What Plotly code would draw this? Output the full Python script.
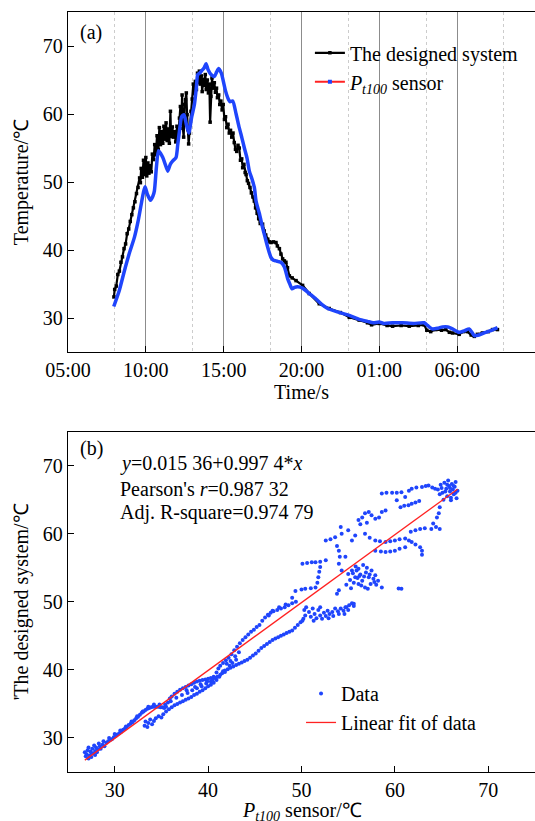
import plotly.graph_objects as go

# ---------------- Panel (a): time series (hours since 00:00 of day 1) ----------------
sys_hours = [7.95, 8.0, 8.1, 8.2, 8.3, 8.4, 8.5, 8.6, 8.7, 8.8, 8.9, 9.0, 9.1, 9.2, 9.3, 9.4, 9.5, 9.6, 9.65, 9.7,
             9.78, 9.85, 9.92, 10.0, 10.06, 10.13, 10.2, 10.28, 10.35, 10.42, 10.5, 10.57, 10.64, 10.72, 10.8, 10.87,
             10.94, 11.02, 11.09, 11.16, 11.23, 11.3, 11.37, 11.44, 11.51, 11.58, 11.62, 11.7, 11.77, 11.84, 11.92,
             12.0, 12.08, 12.16, 12.22, 12.28, 12.33, 12.38, 12.43, 12.5, 12.55, 12.6, 12.65, 12.7, 12.75, 12.8, 12.9,
             12.98, 13.05, 13.12, 13.18, 13.25, 13.32, 13.38, 13.44, 13.5, 13.57, 13.62, 13.68, 13.75, 13.82, 13.88,
             13.95, 14.02, 14.08, 14.13, 14.18, 14.25, 14.32, 14.4, 14.47, 14.54, 14.6, 14.68, 14.75, 14.82, 14.9,
             14.97, 15.05, 15.12, 15.2, 15.28, 15.36, 15.44, 15.52, 15.6, 15.68, 15.76, 15.84, 15.92, 16.0, 16.08,
             16.16, 16.22, 16.3, 16.38, 16.44, 16.52, 16.6, 16.69, 16.78, 16.88, 16.97, 17.05, 17.15, 17.25, 17.35,
             17.5, 17.6, 17.7, 17.83, 17.95, 18.04, 18.2, 18.36, 18.45, 18.58, 18.68, 18.79, 18.9, 19.0, 19.1, 19.22,
             19.4, 19.65, 20.07, 20.5, 21.14, 21.78, 22.5, 23.07, 23.7, 24.24, 24.5, 25.0, 25.5, 25.85, 26.4, 26.92,
             27.5, 27.88, 28.05, 28.3, 28.63, 29.0, 29.27, 29.5, 29.7, 30.13, 30.4, 30.66, 30.9, 31.1, 31.3, 31.62,
             32.0, 32.27, 32.59]
sys_temp = [33.1, 34.2, 34.7, 36.4, 36.9, 38.2, 39.0, 40.2, 40.9, 42.4, 43.1, 44.2, 45.2, 46.2, 47.1, 48.3, 49.2, 50.6,
            49.9, 52.0, 50.7, 53.2, 51.1, 53.6, 50.9, 52.8, 51.3, 52.4, 51.5, 54.1, 53.3, 55.5, 54.0, 56.8, 54.8, 58.0,
            55.5, 57.4, 55.7, 58.2, 56.3, 58.7, 56.1, 57.8, 55.7, 60.4, 56.7, 58.1, 56.6, 57.4, 55.9, 58.2, 56.7, 59.4,
            61.1, 58.5, 62.8, 57.9, 56.6, 61.4, 62.1, 63.1, 59.9, 57.7, 55.6, 57.2, 60.4, 62.2, 64.4, 63.0, 64.8, 63.6,
            66.0, 64.6, 66.3, 64.4, 65.6, 63.3, 65.1, 64.2, 65.8, 63.6, 65.0, 63.1, 64.4, 58.8, 62.6, 65.3, 63.8, 64.6,
            63.2, 63.8, 62.4, 62.8, 61.4, 61.9, 60.6, 61.4, 59.2, 59.6, 58.0, 58.5, 57.2, 57.6, 56.6, 57.2, 55.8, 54.8,
            54.5, 55.4, 55.0, 53.2, 53.4, 52.1, 52.6, 51.4, 51.1, 50.2, 49.8, 49.2, 48.4, 47.8, 47.2, 46.2, 45.4, 44.6,
            43.9, 43.8, 42.8, 42.2, 41.6, 41.2, 41.1, 41.2, 41.1, 40.6, 40.2, 39.4, 38.7, 38.4, 38.2, 37.4, 36.2, 35.9,
            35.5, 34.8, 33.6, 32.1, 31.4, 30.8, 30.1, 29.7, 29.3, 29.0, 29.2, 28.9, 28.8, 28.9, 28.8, 28.9, 29.0, 28.2,
            28.0, 28.3, 28.2, 28.3, 27.9, 27.8, 27.6, 28.0, 28.0, 27.5, 27.3, 27.6, 27.8, 28.0, 28.3, 28.3]

pt_hours = [7.94, 8.3, 8.63, 8.95, 9.27, 9.5, 9.70, 9.85, 9.95, 10.1, 10.30, 10.45, 10.55, 10.68, 10.81, 10.95, 11.09,
            11.25, 11.41, 11.57, 11.73, 11.94, 12.05, 12.16, 12.3, 12.45, 12.6, 12.76, 12.95, 13.12, 13.25, 13.33,
            13.45, 13.6, 13.75, 13.87, 14.0, 14.19, 14.40, 14.55, 14.68, 14.85, 14.98, 15.12, 15.26, 15.4, 15.58,
            15.8, 16.0, 16.17, 16.33, 16.5, 16.65, 16.81, 16.97, 17.08, 17.29, 17.5, 17.67, 17.83, 18.04, 18.2, 18.36,
            18.52, 18.68, 18.9, 19.11, 19.25, 19.39, 19.55, 19.75, 20.07, 20.5, 20.93, 21.3, 21.68, 22.3, 23.07,
            23.71, 24.24, 24.6, 24.99, 25.3, 25.85, 26.5, 27.2, 27.88, 28.1, 28.4, 28.75, 29.06, 29.4, 29.7, 30.13,
            30.45, 30.77, 30.95, 31.1, 31.4, 31.73, 32.1, 32.59]
pt_temp = [31.7, 34.1, 37.0, 39.6, 41.9, 44.2, 46.7, 48.5, 49.3, 48.2, 47.3, 47.9, 48.7, 52.2, 54.6, 54.2, 53.6, 52.6,
           51.6, 52.6, 53.1, 53.6, 55.5, 57.5, 59.6, 59.9, 58.5, 57.2, 59.6, 61.4, 64.0, 65.8, 66.0, 66.4, 66.8, 67.4,
           66.5, 65.8, 65.5, 66.2, 66.7, 66.0, 64.8, 63.4, 62.4, 61.8, 61.9, 60.0, 58.0, 56.5, 55.0, 53.5, 51.6, 50.5,
           49.2, 47.2, 45.4, 43.3, 41.8, 40.4, 38.9, 38.5, 38.4, 38.3, 38.2, 37.5, 35.8, 35.0, 34.3, 34.5, 34.6, 34.4,
           33.6, 32.8, 32.0, 31.4, 30.9, 30.4, 29.8, 29.5, 29.3, 29.4, 29.2, 29.3, 29.3, 29.2, 29.3, 28.9, 28.4, 28.5,
           28.7, 28.7, 28.4, 27.9, 28.1, 28.4, 27.9, 27.4, 27.5, 27.8, 28.1, 28.6]

time_tick_vals = [5, 10, 15, 20, 25, 30]
time_tick_text = ["05:00", "10:00", "15:00", "20:00", "01:00", "06:00"]
time_minor_vals = [8, 13, 18, 23, 28, 33]

# ---------------- Panel (b): scatter Pt100 vs designed system ----------------
scatter_pairs = [
    (26.8, 27.9), (27.0, 27.6), (27.1, 28.2), (27.3, 27.4), (27.4, 28.0), (27.5, 27.2), (27.6, 28.4), (27.7, 27.7),
    (27.9, 28.1), (28.0, 28.6), (28.2, 28.3), (28.4, 28.8), (28.5, 28.4), (28.7, 29.0), (28.9, 28.8), (29.1, 29.3),
    (29.3, 29.5), (29.5, 29.7), (29.7, 29.8), (29.9, 30.1), (30.1, 30.3), (30.3, 30.5), (30.5, 30.7), (30.7, 30.9),
    (30.9, 31.2), (31.1, 31.4), (31.3, 31.6), (31.5, 31.9), (31.7, 32.1), (31.9, 32.3), (32.1, 32.6), (32.3, 32.9),
    (32.5, 33.1), (32.7, 33.4), (32.9, 33.7), (33.1, 33.9), (33.3, 34.1), (33.5, 34.3), (33.7, 34.4), (33.9, 34.5),
    (34.1, 34.6), (34.3, 34.6), (34.5, 34.6), (34.7, 34.6), (34.9, 34.5), (35.1, 34.5), (35.3, 34.4), (35.5, 34.6),
    (35.7, 35.2), (35.9, 35.8), (36.1, 36.1), (36.4, 36.5), (36.7, 36.8), (37.0, 37.1), (37.3, 37.3), (37.6, 37.5),
    (37.9, 37.7), (38.2, 37.9), (38.5, 38.1), (38.8, 38.3), (39.1, 38.4), (39.4, 38.5), (39.7, 38.6), (40.0, 38.7),
    (40.3, 38.8), (40.6, 39.0), (40.9, 39.6), (41.1, 40.2), (41.3, 40.6), (41.6, 41.0), (41.9, 41.4), (42.2, 41.8),
    (42.5, 42.3), (42.8, 42.9), (43.1, 43.4), (43.4, 43.9), (43.7, 44.4), (44.0, 44.8), (44.3, 45.2), (44.6, 45.6),
    (44.9, 45.9), (45.2, 46.3), (45.5, 46.6), (45.8, 47.2), (46.1, 47.7), (46.4, 48.1), (46.7, 48.4), (47.0, 48.6),
    (47.4, 48.8), (47.8, 49.0), (48.2, 49.2), (48.6, 49.5), (49.0, 49.8), (49.4, 50.0),
    (27.2, 28.6), (27.8, 28.9), (28.3, 29.2), (28.8, 29.5), (29.4, 30.0), (30.0, 30.6), (30.6, 31.1), (31.2, 31.7),
    (31.8, 32.4), (32.4, 33.2), (33.0, 33.9), (33.6, 34.6), (34.2, 34.9), (34.8, 34.9), (35.4, 34.9), (26.9, 27.3),
    (27.2, 27.0), (27.5, 27.8), (27.9, 27.5), (28.1, 27.9),
    (33.2, 31.8), (33.3, 32.4), (33.5, 31.6), (33.6, 32.2), (33.8, 32.7), (34.0, 32.0), (34.2, 32.5), (34.4, 32.9),
    (34.7, 33.2), (35.0, 33.0), (35.2, 33.5), (35.5, 33.9), (35.8, 34.2), (36.1, 34.5), (36.4, 34.8), (36.7, 35.0),
    (37.0, 35.2), (37.3, 35.4), (37.6, 35.6), (37.9, 35.8), (38.2, 36.0), (38.5, 36.3), (38.8, 36.5), (39.1, 36.8),
    (39.4, 37.0), (39.7, 37.3), (40.0, 37.6), (40.3, 37.8), (40.6, 38.1), (40.9, 38.5), (41.2, 39.0), (41.5, 39.5),
    (41.8, 39.9), (42.1, 40.1), (42.4, 40.3), (42.7, 40.5), (43.0, 40.7), (43.3, 40.9), (43.6, 41.1), (43.9, 41.3),
    (44.2, 41.5), (44.5, 41.8), (44.8, 42.1), (45.1, 42.4), (45.4, 42.8), (45.7, 43.2), (46.0, 43.5), (46.3, 43.8),
    (46.6, 44.1), (46.9, 44.4), (47.2, 44.6), (47.5, 44.8), (47.8, 45.0), (48.1, 45.2), (48.4, 45.4), (48.7, 45.6),
    (49.0, 45.8), (49.3, 46.2), (49.6, 46.6), (49.9, 47.0), (50.2, 47.5), (50.4, 48.0),
    (37.8, 36.6), (38.3, 37.0), (38.8, 37.3), (39.3, 37.6), (39.8, 38.0), (40.3, 38.3), (40.8, 38.8), (41.3, 39.3),
    (41.8, 39.7), (42.3, 40.6), (42.6, 41.0), (43.0, 41.5),
    (36.0, 35.4), (36.6, 35.9), (37.2, 36.3), (37.7, 37.0), (38.6, 37.5), (39.2, 37.9), (39.9, 38.3), (40.5, 38.6),
    (41.0, 39.0), (41.6, 39.8), (42.0, 40.9), (42.4, 41.3), (42.9, 42.0), (43.3, 42.6),
    (50.1, 47.2), (50.3, 48.8), (50.5, 49.2), (50.8, 48.5), (51.0, 47.8), (51.2, 49.0), (51.4, 48.2), (51.6, 47.6),
    (51.8, 48.8), (52.0, 48.0), (52.2, 47.5), (52.4, 48.4), (52.6, 47.9), (52.8, 48.7), (53.0, 48.2), (53.3, 48.5),
    (53.6, 49.0), (53.9, 48.6), (54.2, 49.0), (54.5, 48.7), (54.8, 49.2), (55.1, 49.5), (55.4, 49.8), (55.6, 49.4),
    (51.3, 47.2), (52.0, 49.2), (52.9, 47.6), (53.4, 47.9), (54.0, 48.2), (54.6, 48.2), (55.0, 48.8),
    (46.5, 48.0), (46.9, 48.7), (47.6, 49.2), (48.3, 49.6), (49.0, 50.6), (49.35, 51.6), (50.0, 51.8), (50.4, 51.9),
    (51.0, 52.0), (51.5, 52.1), (51.7, 52.8), (51.8, 53.6), (51.9, 54.4), (52.0, 55.1),
    (50.1, 55.6), (50.6, 55.7), (51.1, 55.8), (51.5, 55.8), (52.0, 55.9), (52.6, 56.1),
    (52.6, 59.0), (53.1, 59.2), (53.6, 59.5), (54.3, 60.0), (55.0, 60.5), (55.75, 59.75), (55.4, 59.0), (54.0, 57.5),
    (54.7, 56.6), (54.0, 55.6), (54.3, 54.6), (53.8, 58.2), (54.1, 56.6), (54.2, 61.0),
    (56.1, 62.0), (56.5, 62.4), (56.8, 63.0), (57.2, 63.2), (57.5, 62.7), (57.9, 62.2), (58.3, 62.4), (58.6, 63.2),
    (59.0, 63.4), (56.3, 61.4), (57.0, 61.6),
    (58.6, 65.9), (59.1, 66.0), (59.7, 66.0), (60.2, 66.0), (60.7, 66.1), (61.1, 65.4), (61.5, 66.3), (61.8, 66.6),
    (62.3, 66.8), (62.9, 66.85), (63.3, 67.0), (63.6, 67.1), (64.0, 66.8), (64.3, 66.6), (60.2, 64.9), (60.6, 63.9),
    (61.0, 64.1), (61.45, 64.2), (61.8, 64.4), (62.2, 64.6), (62.6, 64.8),
    (64.6, 66.5), (64.9, 67.2), (65.1, 66.0), (65.3, 67.5), (65.5, 66.6), (65.6, 65.5), (65.8, 67.0), (65.9, 66.2),
    (66.0, 65.3), (66.1, 67.3), (66.2, 66.5), (66.3, 65.8), (66.4, 66.9), (66.6, 65.2), (66.7, 66.3), (65.2, 65.0),
    (64.8, 65.8), (66.5, 67.6), (65.7, 67.8), (66.0, 64.9), (65.4, 66.2), (65.9, 66.7), (66.3, 67.0), (65.0, 66.7),
    (66.5, 66.0), (65.6, 67.2),
    (64.8, 63.9), (64.5, 62.4), (64.1, 61.5), (63.9, 60.7), (64.8, 60.7), (64.4, 61.0), (64.7, 63.0),
    (61.7, 60.3), (62.2, 60.5), (62.7, 60.7), (63.2, 60.8),
    (56.8, 60.0), (57.3, 59.4), (57.9, 59.0), (58.4, 58.9), (59.0, 58.8), (59.5, 58.9), (60.0, 59.0), (60.5, 59.2),
    (61.1, 59.3), (61.5, 59.0), (61.8, 58.8), (62.2, 58.4), (62.7, 58.0), (62.9, 57.5), (57.9, 57.5), (58.5, 57.4),
    (59.0, 57.3), (59.5, 57.4), (60.0, 57.5), (60.5, 57.8), (61.1, 58.0), (62.9, 56.9),
    (55.0, 54.1), (55.4, 54.6), (55.75, 53.6), (56.1, 54.85), (56.1, 52.6), (56.5, 53.1), (56.8, 52.1), (57.2, 53.6),
    (57.5, 54.6), (57.9, 53.9), (58.2, 53.1), (58.6, 52.1), (55.2, 53.2), (55.6, 52.8), (56.3, 54.0), (56.9, 54.3),
    (57.4, 52.6), (57.8, 52.9), (55.8, 55.2), (56.6, 55.4), (57.0, 55.0), (54.8, 52.5), (55.3, 52.0), (56.0, 53.5),
    (57.1, 51.9), (55.5, 54.2), (56.4, 52.4), (57.3, 54.0), (57.7, 53.4), (56.2, 53.8), (55.9, 54.6), (58.0, 52.5),
    (56.7, 53.7),
    (60.7, 51.9), (60.4, 51.95), (54.0, 51.7), (53.8, 51.2), (55.6, 49.7), (54.7, 49.2),
]
scatter_pt = [p[0] for p in scatter_pairs]
scatter_sys = [p[1] for p in scatter_pairs]

fit_intercept = 0.01536
fit_slope = 0.9974
fit_lines = ["<i>y</i>=0.015 36+0.997 4*<i>x</i>",
             "Pearson's <i>r</i>=0.987 32",
             "Adj. R-square=0.974 79"]
value_ticks = [30, 40, 50, 60, 70]

FONT = "Liberation Serif"
BLUE = "#1f45fc"
RED = "#ff2222"

fig = go.Figure()

# panel (a)
fig.add_trace(go.Scatter(x=sys_hours, y=sys_temp, mode="lines+markers", name="The designed system",
                         line=dict(color="black", width=2.2),
                         marker=dict(color="black", size=3.5, symbol="square"),
                         xaxis="x", yaxis="y", legend="legend"))
fig.add_trace(go.Scatter(x=pt_hours, y=pt_temp, mode="lines",
                         line=dict(color=BLUE, width=3.5, shape="spline", smoothing=0.6),
                         showlegend=False, xaxis="x", yaxis="y"))
fig.add_trace(go.Scatter(x=[None], y=[None], mode="lines+markers",
                         name="<i>P</i><sub><i>t100</i></sub> sensor",
                         line=dict(color=RED, width=2), marker=dict(color=BLUE, size=4, symbol="square"),
                         xaxis="x", yaxis="y", legend="legend"))

# panel (b)
fig.add_trace(go.Scatter(x=scatter_pt, y=scatter_sys, mode="markers", name="Data",
                         marker=dict(color=BLUE, size=4), xaxis="x2", yaxis="y2", legend="legend2"))
fx = [min(scatter_pt), max(scatter_pt)]
fy = [fit_intercept + fit_slope * v for v in fx]
fig.add_trace(go.Scatter(x=fx, y=fy, mode="lines", name="Linear fit of data",
                         line=dict(color=RED, width=1.3), xaxis="x2", yaxis="y2", legend="legend2"))

axis_common = dict(showline=True, linecolor="black", linewidth=1.3, ticks="inside", ticklen=6,
                   tickcolor="black", tickwidth=1.2, zeroline=False,
                   tickfont=dict(family=FONT, size=20, color="black"))

fig.update_layout(
    width=535, height=821,
    margin=dict(l=68, r=0, t=12, b=49, autoexpand=False),
    paper_bgcolor="white", plot_bgcolor="white",
    font=dict(family=FONT, size=20, color="black"),
    xaxis=dict(domain=[0, 1], anchor="y", range=[5, 35], tickvals=time_tick_vals, ticktext=time_tick_text,
               mirror=True, showgrid=True, gridcolor="#8c8c8c", gridwidth=1, automargin=True,
               minor=dict(tickvals=time_minor_vals, showgrid=True, gridcolor="#cccccc", griddash="dot",
                          gridwidth=0.8, ticks=""),
               title=dict(text="Time/s", font=dict(family=FONT, size=20), standoff=4), **axis_common),
    yaxis=dict(domain=[0.5526, 1], anchor="x", range=[25, 75], tickvals=value_ticks, mirror=False,
               showgrid=False, automargin=True,
               title=dict(text="Temperature/℃", font=dict(family=FONT, size=20), standoff=8),
               **axis_common),
    xaxis2=dict(domain=[0, 1], anchor="y2", range=[25, 75], tickvals=value_ticks, mirror=True, showgrid=False,
                automargin=False, **axis_common),
    yaxis2=dict(domain=[0, 0.4479], anchor="x2", range=[25, 75], tickvals=value_ticks, mirror=False,
                showgrid=False, automargin=True,
                title=dict(text="'The designed system/℃", font=dict(family=FONT, size=20), standoff=8),
                **axis_common),
    legend=dict(x=0.518, y=0.972, xanchor="left", yanchor="top", bgcolor="rgba(0,0,0,0)",
                font=dict(family=FONT, size=20), itemwidth=30, tracegroupgap=0),
    legend2=dict(x=0.499, y=0.129, xanchor="left", yanchor="top", bgcolor="rgba(0,0,0,0)",
                 font=dict(family=FONT, size=20), itemwidth=30, tracegroupgap=0),
    showlegend=True,
)

annots = [dict(text="(a)", x=0.0214, y=0.973), dict(text="(b)", x=0.0214, y=0.426)]
for txt, yy in zip(fit_lines, [0.406, 0.373, 0.341]):
    annots.append(dict(text=txt, x=0.1064, y=yy))
for a in annots:
    fig.add_annotation(xref="paper", yref="paper", xanchor="left", yanchor="middle", showarrow=False,
                       font=dict(family=FONT, size=20, color="black"), **a)
# x-axis title of panel (b), placed like the reference (its subscript runs into the bottom edge)
fig.add_annotation(xref="paper", yref="paper", x=0.5, y=-0.052, xanchor="center", yanchor="middle",
                   showarrow=False, text="<i>P</i><sub><i>t100</i></sub> sensor/℃",
                   font=dict(family=FONT, size=20, color="black"))

fig.write_html("out.html")
